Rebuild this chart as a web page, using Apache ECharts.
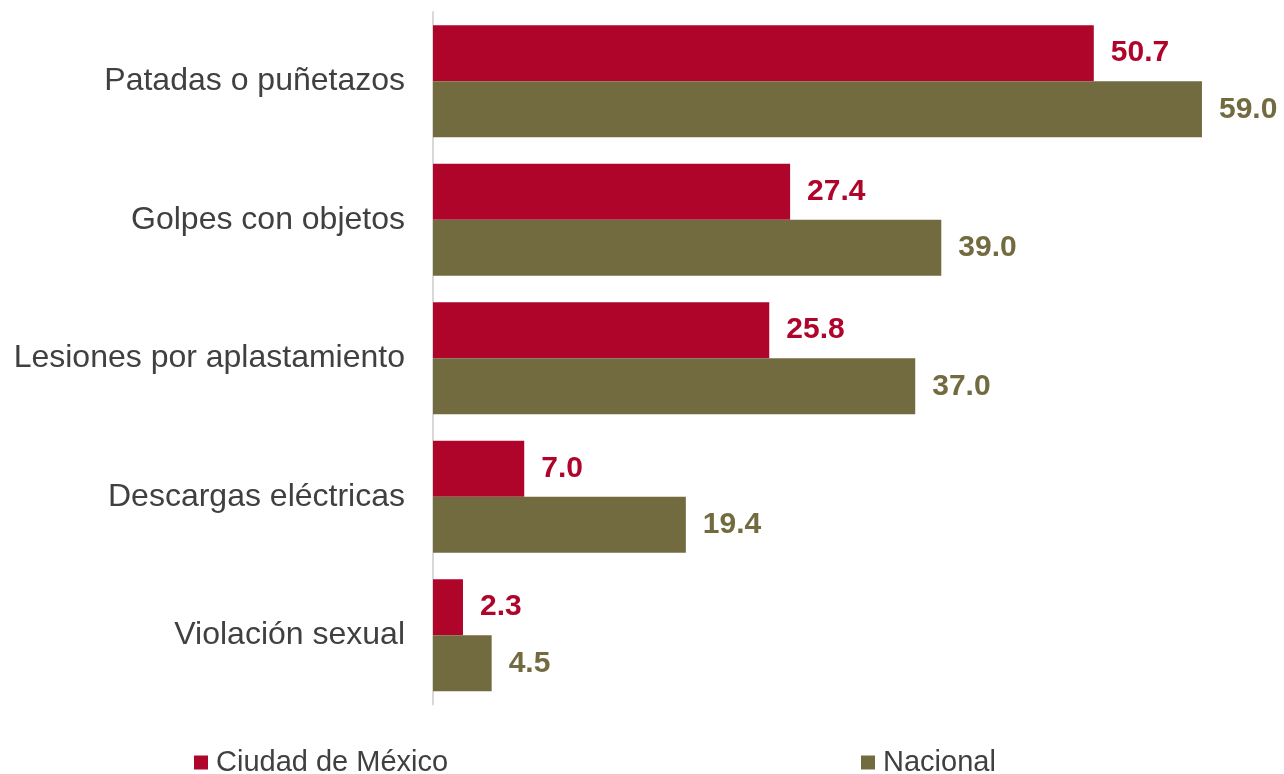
<!DOCTYPE html>
<html>
<head>
<meta charset="utf-8">
<script src="https://cdn.jsdelivr.net/npm/echarts@6/dist/echarts.min.js"></script>
<style>html,body{margin:0;padding:0;background:#fff}#c{width:1284px;height:774px}</style>
</head>
<body>
<div id="c"></div>
<script>
const categories = ['Patadas o puñetazos', 'Golpes con objetos', 'Lesiones por aplastamiento', 'Descargas eléctricas', 'Violación sexual'];
const cdmx = [50.7, 27.4, 25.8, 7.0, 2.3];
const nacional = [59.0, 39.0, 37.0, 19.4, 4.5];
const seriesNames = ['Ciudad de México', 'Nacional'];

const RED = '#B0052B';
const OLIVE = '#736B40';
const FONT = "'Liberation Sans', Arial, sans-serif";

const chart = echarts.init(document.getElementById('c'));
const labelCfg = (color) => ({
  show: true, position: 'right', distance: 17,
  formatter: (p) => p.value.toFixed(1),
  color: color, fontFamily: FONT, fontWeight: 'bold', fontSize: 30
});
const legendText = { fontFamily: FONT, fontSize: 29, color: '#404040', lineHeight: 28, padding: [0,0,0,3] };
chart.setOption({
  animation: false,
  legend: [
    { data: [seriesNames[0]], left: 189, top: 743, itemWidth: 14, itemHeight: 14, itemGap: 7,
      icon: 'rect', textStyle: legendText },
    { data: [seriesNames[1]], left: 856, top: 743, itemWidth: 14, itemHeight: 14, itemGap: 7,
      icon: 'rect', textStyle: legendText }
  ],
  grid: { left: 433, top: 12, height: 692.5, width: 782 },
  xAxis: { type: 'value', min: 0, max: 60, show: false },
  yAxis: {
    type: 'category', data: categories, inverse: true,
    axisLine: { show: true, lineStyle: { color: '#D9D9D9', width: 2 } },
    axisTick: { show: false },
    axisLabel: { margin: 28, color: '#404040', fontFamily: FONT, fontSize: 32 }
  },
  series: [
    { name: seriesNames[0], type: 'bar', data: cdmx, itemStyle: { color: RED },
      barGap: '0%', barCategoryGap: '19%', label: labelCfg(RED) },
    { name: seriesNames[1], type: 'bar', data: nacional, itemStyle: { color: OLIVE },
      barGap: '0%', barCategoryGap: '19%', label: labelCfg(OLIVE) }
  ]
});
</script>
</body>
</html>
